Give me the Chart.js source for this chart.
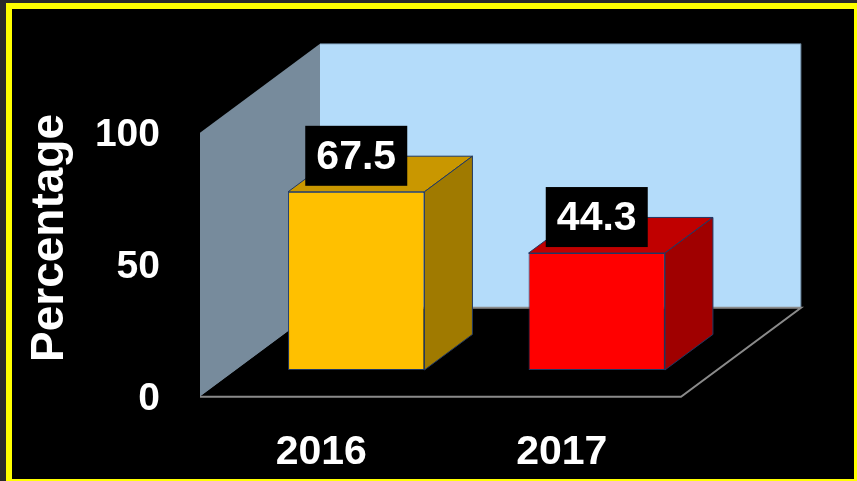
<!DOCTYPE html>
<html lang="en">
<head>
  <meta charset="UTF-8" />
  <title>Percentage 2016 / 2017</title>
  <style>
    html, body { margin: 0; padding: 0; background: #000; }
    .chart-box { width: 857px; height: 481px; position: relative; }
  </style>
</head>
<body>
  <div class="chart-box"><canvas id="barChart"></canvas></div>

  <script src="https://cdn.jsdelivr.net/npm/chart.js"></script>
  <script>
    // data
    const years = ['2016', '2017'];
    const percentages = [67.5, 44.3];
    const yTicks = [0, 50, 100];

    // styles
    const frontColors = ['#FFC000', '#FF0000'];
    const topColors = ['#C99700', '#C00000'];
    const sideColors = ['#A07A00', '#A00000'];
    const FONT = "'Liberation Sans', Arial, sans-serif";

    // oblique depth of the whole box, and where bars sit in it
    const DEPTH_X = 120, DEPTH_Y = -89;
    const FRONT = -0.3, BAR_DEPTH = 0.4, BACK = 0.7;

    function poly(ctx, pts, fill, stroke, lw) {
      ctx.beginPath();
      ctx.moveTo(pts[0][0], pts[0][1]);
      for (let i = 1; i < pts.length; i++) ctx.lineTo(pts[i][0], pts[i][1]);
      ctx.closePath();
      if (fill) { ctx.fillStyle = fill; ctx.fill(); }
      if (stroke) { ctx.strokeStyle = stroke; ctx.lineWidth = lw || 1; ctx.stroke(); }
    }

    const box3d = {
      id: 'box3d',
      beforeDraw(chart) {
        const ctx = chart.ctx;
        const {left, right} = chart.chartArea;
        const y = chart.scales.y;
        const top = y.getPixelForValue(100), bottom = y.getPixelForValue(0);
        const fx = FRONT * DEPTH_X, fy = FRONT * DEPTH_Y;
        const bx = BACK * DEPTH_X, by = BACK * DEPTH_Y;

        ctx.save();
        // page frame
        ctx.fillStyle = '#2b2b2b';
        ctx.fillRect(0, 0, chart.width, chart.height);
        ctx.fillStyle = '#000';
        ctx.fillRect(12, 9, chart.width - 12, chart.height - 9);
        ctx.strokeStyle = '#FFFF00';
        ctx.lineWidth = 6;
        ctx.strokeRect(9, 6, 848, 476);

        // back wall
        poly(ctx, [[left + bx, top + by], [right + bx, top + by],
                   [right + bx, bottom + by], [left + bx, bottom + by]], '#B4DCFA');
        ctx.beginPath();
        ctx.moveTo(left + bx, top + by);
        ctx.lineTo(right + bx, top + by);
        ctx.lineTo(right + bx, bottom + by);
        ctx.strokeStyle = '#4F6578';
        ctx.lineWidth = 1;
        ctx.stroke();

        // side wall
        poly(ctx, [[left + fx, top + fy], [left + bx, top + by],
                   [left + bx, bottom + by], [left + fx, bottom + fy]], '#778B9C');

        // floor
        poly(ctx, [[left + fx, bottom + fy], [right + fx, bottom + fy],
                   [right + bx, bottom + by], [left + bx, bottom + by]], '#000');
        ctx.beginPath();
        ctx.moveTo(left + bx, bottom + by);
        ctx.lineTo(right + bx, bottom + by);
        ctx.lineTo(right + fx, bottom + fy);
        ctx.lineTo(left + fx, bottom + fy);
        ctx.strokeStyle = '#8a8a8a';
        ctx.lineWidth = 2;
        ctx.stroke();
        ctx.restore();
      },
      afterDatasetsDraw(chart) {
        const ctx = chart.ctx;
        const dx = BAR_DEPTH * DEPTH_X, dy = BAR_DEPTH * DEPTH_Y;
        const meta = chart.getDatasetMeta(0);
        ctx.save();
        meta.data.forEach((bar, i) => {
          const {x, y, base, width} = bar.getProps(['x', 'y', 'base', 'width'], true);
          const l = x - width / 2, r = x + width / 2;
          poly(ctx, [[l, y], [r, y], [r + dx, y + dy], [l + dx, y + dy]], topColors[i], '#1F3864', 1);
          poly(ctx, [[r, y], [r + dx, y + dy], [r + dx, base + dy], [r, base]], sideColors[i], '#1F3864', 1);

          // value label
          const bw = 102, bh = 60;
          ctx.fillStyle = '#000';
          ctx.fillRect(x - bw / 2, y - 6 - bh, bw, bh);
          ctx.fillStyle = '#fff';
          ctx.font = 'bold 41px ' + FONT;
          ctx.textAlign = 'center';
          ctx.textBaseline = 'middle';
          ctx.fillText(percentages[i].toFixed(1), x, y - 6 - bh / 2 + 2);
        });
        ctx.restore();
      }
    };

    new Chart(document.getElementById('barChart'), {
      type: 'bar',
      data: {
        labels: years,
        datasets: [{
          data: percentages,
          backgroundColor: frontColors,
          borderColor: '#1F3864',
          borderWidth: 1,
          borderSkipped: false,
          barPercentage: 0.567,
          categoryPercentage: 1
        }]
      },
      options: {
        responsive: true,
        maintainAspectRatio: false,
        devicePixelRatio: 1,
        animation: false,
        layout: { padding: { left: 12, top: 106, right: 140, bottom: 0 } },
        plugins: { legend: { display: false }, tooltip: { enabled: false } },
        scales: {
          x: {
            grid: { display: false, drawTicks: false },
            border: { display: false },
            ticks: {
              color: '#fff',
              font: { family: FONT, size: 41, weight: 'bold' },
              padding: 58,
              labelOffset: -35,
              maxRotation: 0
            },
            afterFit: s => { s.height = 111; }
          },
          y: {
            min: 0,
            max: 100,
            grid: { display: false, drawTicks: false },
            border: { display: false },
            afterBuildTicks: s => { s.ticks = yTicks.map(v => ({ value: v })); },
            ticks: {
              color: '#fff',
              font: { family: FONT, size: 39, weight: 'bold' },
              padding: 76,
              labelOffset: 29
            },
            title: {
              display: true,
              text: 'Percentage',
              color: '#fff',
              font: { family: FONT, size: 46, weight: 'bold', lineHeight: 1 },
              padding: { top: 15, bottom: 0 }
            },
            afterFit: s => { s.width = 224; }
          }
        }
      },
      plugins: [box3d]
    });
  </script>
</body>
</html>
